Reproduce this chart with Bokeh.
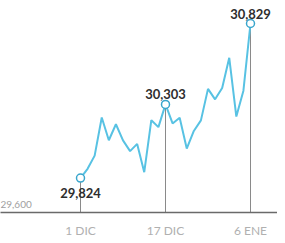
from bokeh.plotting import figure
from bokeh.models import ColumnDataSource, FixedTicker, Range1d
from bokeh.embed import file_html
from bokeh.resources import INLINE
from bokeh.core.properties import value

# Daily closes (trading days), 1 Dec -> 6 Jan
closes = [29824, 29884, 29970, 30218, 30070, 30174, 30069, 29999, 30046,
          29862, 30200, 30155, 30303, 30179, 30216, 30016, 30130, 30199,
          30404, 30336, 30410, 30606, 30224, 30392, 30829]
tick_idx = [0, 12, 24]
tick_labels = ["1 DIC", "17 DIC", "6 ENE"]
base_value = 29600
base_label = "29,600"

idx = list(range(len(closes)))
px_per_idx = 170 / 24.0
x_start = -80 / px_per_idx
x_end = 24 + 27 / px_per_idx
frame_h = 212
units_per_px = (30829 - 29600) / (frame_h - 23.0)
y_end = base_value + frame_h * units_per_px

p = figure(frame_width=277, frame_height=frame_h, output_backend="svg",
           toolbar_location=None, x_range=Range1d(x_start, x_end),
           y_range=Range1d(base_value, y_end), min_border=0,
           min_border_left=0, min_border_right=0, min_border_top=0)
p.outline_line_color = None
p.background_fill_color = "white"
p.border_fill_color = "white"
p.xgrid.visible = False
p.ygrid.visible = False
p.yaxis.visible = False

ax = p.xaxis[0]
ax.ticker = FixedTicker(ticks=tick_idx)
ax.major_label_overrides = {i: l for i, l in zip(tick_idx, tick_labels)}
ax.axis_line_color = "#6a6a6a"
ax.axis_line_width = 1.5
ax.major_tick_line_color = None
ax.minor_tick_line_color = None
ax.major_tick_out = 0
ax.major_label_standoff = 10
ax.major_label_text_font = "Lato"
ax.major_label_text_font_size = "12px"
ax.major_label_text_color = "#b0b0b0"

hx = tick_idx
hy = [closes[i] for i in tick_idx]
src = ColumnDataSource(dict(x=hx, y=hy, y0=[base_value] * len(hx),
                            lab=[f"{v:,}" for v in hy]))

p.segment(x0="x", y0="y0", x1="x", y1="y", source=src,
          line_color="#8a8a8a", line_width=1)
p.line(idx, closes, line_color="#58c2e3", line_width=2)
p.scatter(x="x", y="y", source=src, size=8, fill_color="white",
          line_color="#3aa6cc", line_width=1.5)

# value labels
up = dict(x=[hx[1], hx[2]], y=[hy[1], hy[2]], lab=[src.data["lab"][1], src.data["lab"][2]])
p.text(x="x", y="y", text="lab", source=ColumnDataSource(up),
       text_align="center", text_baseline="bottom", y_offset=-5,
       text_font=value("Lato"), text_font_style="bold",
       text_font_size="13px", text_color="#2e2e2e")
dn = dict(x=[hx[0]], y=[hy[0]], lab=[src.data["lab"][0]])
p.text(x="x", y="y", text="lab", source=ColumnDataSource(dn),
       text_align="center", text_baseline="top", y_offset=10,
       text_font=value("Lato"), text_font_style="bold",
       text_font_size="13px", text_color="#2e2e2e")

p.text(x=[x_start], y=[base_value], text=[base_label], text_align="left",
       text_baseline="bottom", y_offset=-5, x_offset=0,
       text_font=value("Lato"), text_font_size="10px", text_color="#a0a0a0")

open("out.html", "w").write(file_html(p, INLINE))
